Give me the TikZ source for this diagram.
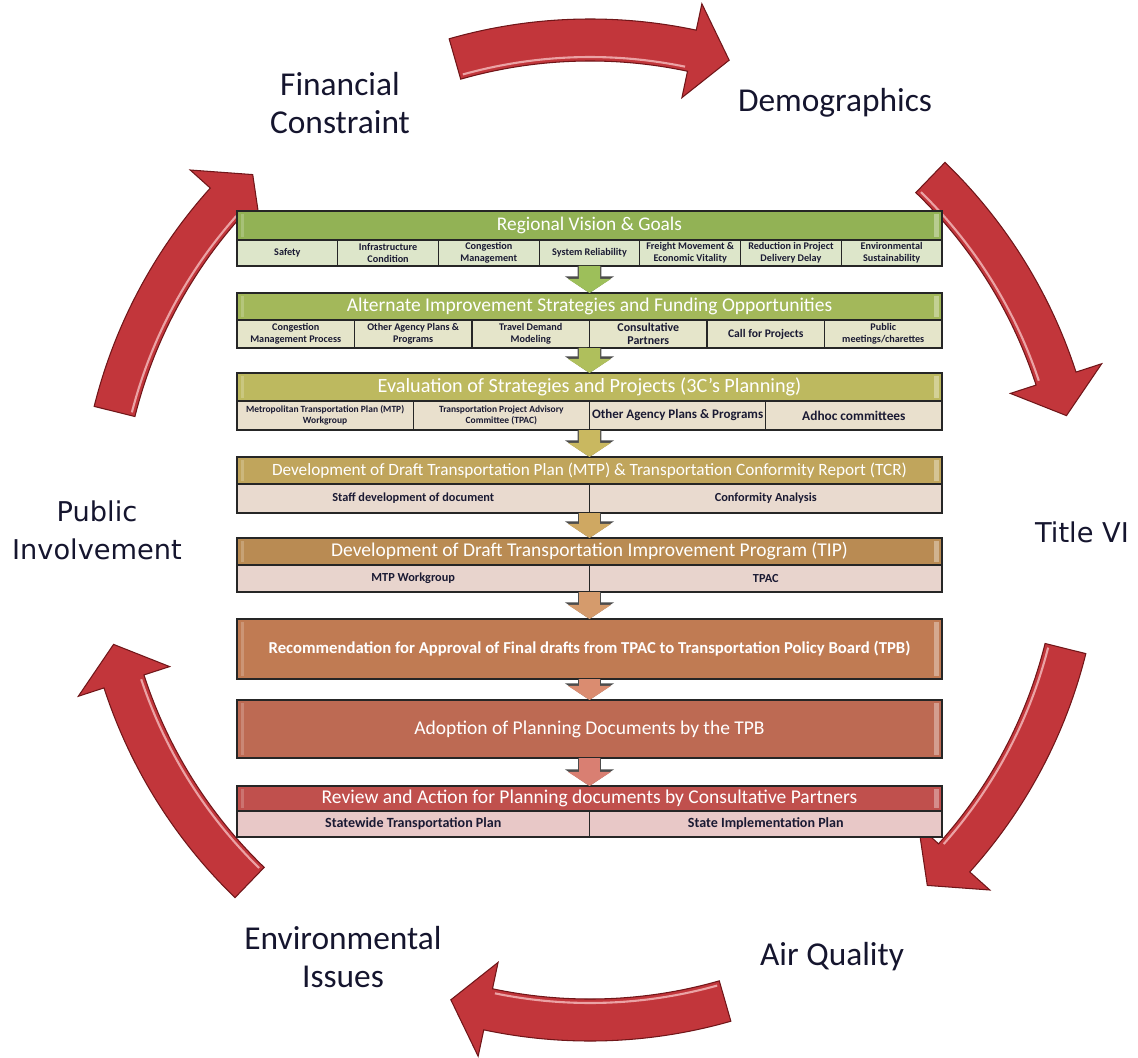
\documentclass[tikz,border=0pt]{standalone}
\usepackage{fontspec}
\setmainfont{Carlito}
\newfontfamily\wideface{DejaVu Sans}
\usetikzlibrary{arrows.meta, positioning, calc}

\definecolor{cycred}{HTML}{C2363B}
\definecolor{cycdark}{HTML}{701619}
\definecolor{cyclight}{HTML}{EBA3A5}
\definecolor{lblblue}{HTML}{15152E}
\definecolor{celltext}{HTML}{1A1A33}
\definecolor{hone}{HTML}{92B255}
\definecolor{htwo}{HTML}{A3B85A}
\definecolor{hthree}{HTML}{BDB95F}
\definecolor{hfour}{HTML}{C0A55C}
\definecolor{hfive}{HTML}{B98B53}
\definecolor{hsix}{HTML}{C07B53}
\definecolor{hseven}{HTML}{BD6A53}
\definecolor{height}{HTML}{C0504D}
\definecolor{cone}{HTML}{DDE6CA}
\definecolor{ctwo}{HTML}{E5E5CA}
\definecolor{cthree}{HTML}{E9E0CD}
\definecolor{cfour}{HTML}{E9DACF}
\definecolor{cfive}{HTML}{E8D4CD}
\definecolor{ceight}{HTML}{E8C8C7}
\definecolor{aone}{HTML}{9DBF5A}
\definecolor{atwo}{HTML}{AFBF5C}
\definecolor{athree}{HTML}{C9B860}
\definecolor{afour}{HTML}{CFA862}
\definecolor{afive}{HTML}{D59B6C}
\definecolor{asix}{HTML}{DA8C70}
\definecolor{aseven}{HTML}{D97F72}

% one red arrow of the outer cycle, #1 = angle of its middle
\newcommand{\cyclearrow}[1]{%
  \fill[cycred, draw=cycdark, line width=0.6pt]
    ($(C)+(#1+16:10.22)$) arc[start angle=#1+16, end angle=#1-12, radius=10.22]
    -- ($(C)+(#1-12:10.76)$) -- ($(C)+(#1-16.5:9.8)$) -- ($(C)+(#1-12:8.84)$)
    -- ($(C)+(#1-12:9.38)$) arc[start angle=#1-12, end angle=#1+16, radius=9.38] -- cycle;
  \draw[cyclight, line width=1.2pt]
    ($(C)+(#1+15.6:9.46)$) arc[start angle=#1+15.6, end angle=#1-11.6, radius=9.46];}

\tikzset{
  hdr/.style={draw=black!85, line width=0.8pt, minimum width=14.1cm, inner sep=0pt, outer sep=0pt, text=white,
    path picture={\fill[white, opacity=0.35] ($(path picture bounding box.north east)+(-0.16,-0.06)$) rectangle ($(path picture bounding box.south east)+(-0.07,0.06)$);
      \fill[white, opacity=0.2] ($(path picture bounding box.north west)+(0.07,-0.06)$) rectangle ($(path picture bounding box.south west)+(0.14,0.06)$);}},
  cell/.style={draw=black!85, line width=0.6pt, inner sep=0pt, outer sep=0pt, align=center, text=celltext,
    font=\bfseries\fontsize{5.8}{6.6}\selectfont},
  cellone/.style={cell, fill=cone, minimum width=2.0143cm, minimum height=0.52cm},
  celltwo/.style={cell, fill=ctwo, minimum width=2.35cm, minimum height=0.56cm},
  cellthree/.style={cell, fill=cthree, minimum width=3.525cm, minimum height=0.58cm},
  cellfour/.style={cell, fill=cfour, minimum width=7.05cm, minimum height=0.58cm, font=\bfseries\fontsize{7}{7.5}\selectfont},
  cellfive/.style={cell, fill=cfive, minimum width=7.05cm, minimum height=0.54cm, font=\bfseries\fontsize{7}{7.5}\selectfont},
  celleight/.style={cell, fill=ceight, minimum width=7.05cm, minimum height=0.52cm, font=\bfseries\fontsize{8}{8.5}\selectfont},
  lbl/.style={align=center, text=lblblue, font=\fontsize{19}{21.5}\selectfont},
  dnarrow/.style={line width=12pt, draw=#1, -{Triangle[length=8pt,width=24pt]},
    preaction={draw=black!70, line width=13.6pt, -{Triangle[length=9.5pt,width=27.5pt]}}}
}

\begin{document}
\begin{tikzpicture}
\useasboundingbox (0,0) rectangle (22.76,-21.14);
\coordinate (C) at (11.8,-10.6);

% outer cycle
\cyclearrow{90}
\cyclearrow{30}
\cyclearrow{-30}
\cyclearrow{-90}
\cyclearrow{-150}
\cyclearrow{150}

\node[lbl] (fin) at (6.8,-2.06) {Financial\\Constraint};
\node[lbl] (demo) at (16.7,-2.06) {Demographics};
\node[lbl, font=\wideface\fontsize{15.5}{21.5}\selectfont] (title) at (21.64,-10.64) {Title VI};
\node[lbl] (air) at (16.64,-19.14) {Air Quality};
\node[lbl] (env) at (6.86,-19.14) {Environmental\\Issues};
\node[lbl, font=\wideface\fontsize{15.5}{21.5}\selectfont] (pub) at (1.94,-10.6) {Public\\Involvement};

% box 1
\node[hdr, fill=hone, minimum height=0.58cm, font=\fontsize{11}{12}\selectfont] (H1) at (11.79,-4.51) {Regional Vision \& Goals};
\node[cellone, anchor=north west] (C11) at (H1.south west) {Safety};
\node[cellone, right=0pt of C11] (C12) {Infrastructure\\Condition};
\node[cellone, right=0pt of C12] (C13) {Congestion\\Management};
\node[cellone, right=0pt of C13] (C14) {System Reliability};
\node[cellone, right=0pt of C14] (C15) {Freight Movement \&\\Economic Vitality};
\node[cellone, right=0pt of C15] (C16) {Reduction in Project\\Delivery Delay};
\node[cellone, right=0pt of C16] (C17) {Environmental\\Sustainability};

% box 2
\node[hdr, fill=htwo, minimum height=0.54cm, font=\fontsize{11.1}{12}\selectfont] (H2) at (11.79,-6.13) {Alternate Improvement Strategies and Funding Opportunities};
\node[celltwo, anchor=north west] (C21) at (H2.south west) {Congestion\\Management Process};
\node[celltwo, right=0pt of C21] (C22) {Other Agency Plans \&\\Programs};
\node[celltwo, right=0pt of C22] (C23) {Travel Demand\\Modeling};
\node[celltwo, right=0pt of C23, font=\bfseries\fontsize{6.8}{7.6}\selectfont] (C24) {Consultative\\Partners};
\node[celltwo, right=0pt of C24, font=\bfseries\fontsize{6.6}{7.5}\selectfont] (C25) {Call for Projects};
\node[celltwo, right=0pt of C25] (C26) {Public\\meetings/charettes};

% box 3
\node[hdr, fill=hthree, minimum height=0.56cm, font=\fontsize{11.5}{12}\selectfont] (H3) at (11.79,-7.74) {Evaluation of Strategies and Projects (3C's Planning)};
\node[cellthree, anchor=north west, font=\bfseries\fontsize{5.4}{6.4}\selectfont] (C31) at (H3.south west) {Metropolitan Transportation Plan (MTP)\\Workgroup};
\node[cellthree, right=0pt of C31, font=\bfseries\fontsize{5.4}{6.4}\selectfont] (C32) {Transportation Project Advisory\\Committee (TPAC)};
\node[cellthree, right=0pt of C32, font=\bfseries\fontsize{7.4}{8}\selectfont] (C33) {Other Agency Plans \& Programs};
\node[cellthree, right=0pt of C33, font=\bfseries\fontsize{7.6}{8}\selectfont] (C34) {Adhoc committees};

% box 4
\node[hdr, fill=hfour, minimum height=0.54cm, font=\fontsize{9.8}{11}\selectfont] (H4) at (11.79,-9.41) {Development of Draft Transportation Plan (MTP) \& Transportation Conformity Report (TCR)};
\node[cellfour, anchor=north west] (C41) at (H4.south west) {Staff development of document};
\node[cellfour, right=0pt of C41] (C42) {Conformity Analysis};

% box 5
\node[hdr, fill=hfive, minimum height=0.54cm, font=\fontsize{11.1}{12}\selectfont] (H5) at (11.79,-11.03) {Development of Draft Transportation Improvement Program (TIP)};
\node[cellfive, anchor=north west] (C51) at (H5.south west) {MTP Workgroup};
\node[cellfive, right=0pt of C51] (C52) {TPAC};

% boxes 6 and 7
\node[hdr, fill=hsix, minimum height=1.2cm, font=\bfseries\fontsize{9.5}{10}\selectfont] (H6) at (11.79,-12.98) {Recommendation for Approval of Final drafts from TPAC to Transportation Policy Board (TPB)};
\node[hdr, fill=hseven, minimum height=1.16cm, font=\fontsize{11.1}{12}\selectfont] (H7) at (11.79,-14.58) {Adoption of Planning Documents by the TPB};

% box 8
\node[hdr, fill=height, minimum height=0.5cm, font=\fontsize{11.1}{12}\selectfont] (H8) at (11.79,-15.97) {Review and Action for Planning documents by Consultative Partners};
\node[celleight, anchor=north west] (C81) at (H8.south west) {Statewide Transportation Plan};
\node[celleight, right=0pt of C81] (C82) {State Implementation Plan};

% flow arrows
\draw[dnarrow=aone] (C14.south) -- (H2.north);
\draw[dnarrow=atwo] (C23.south east) -- (H3.north);
\draw[dnarrow=athree] (C32.south east) -- (H4.north);
\draw[dnarrow=afour] (C41.south east) -- (H5.north);
\draw[dnarrow=afive] (C51.south east) -- (H6.north);
\draw[dnarrow=asix] (H6.south) -- (H7.north);
\draw[dnarrow=aseven] (H7.south) -- (H8.north);
\end{tikzpicture}
\end{document}
